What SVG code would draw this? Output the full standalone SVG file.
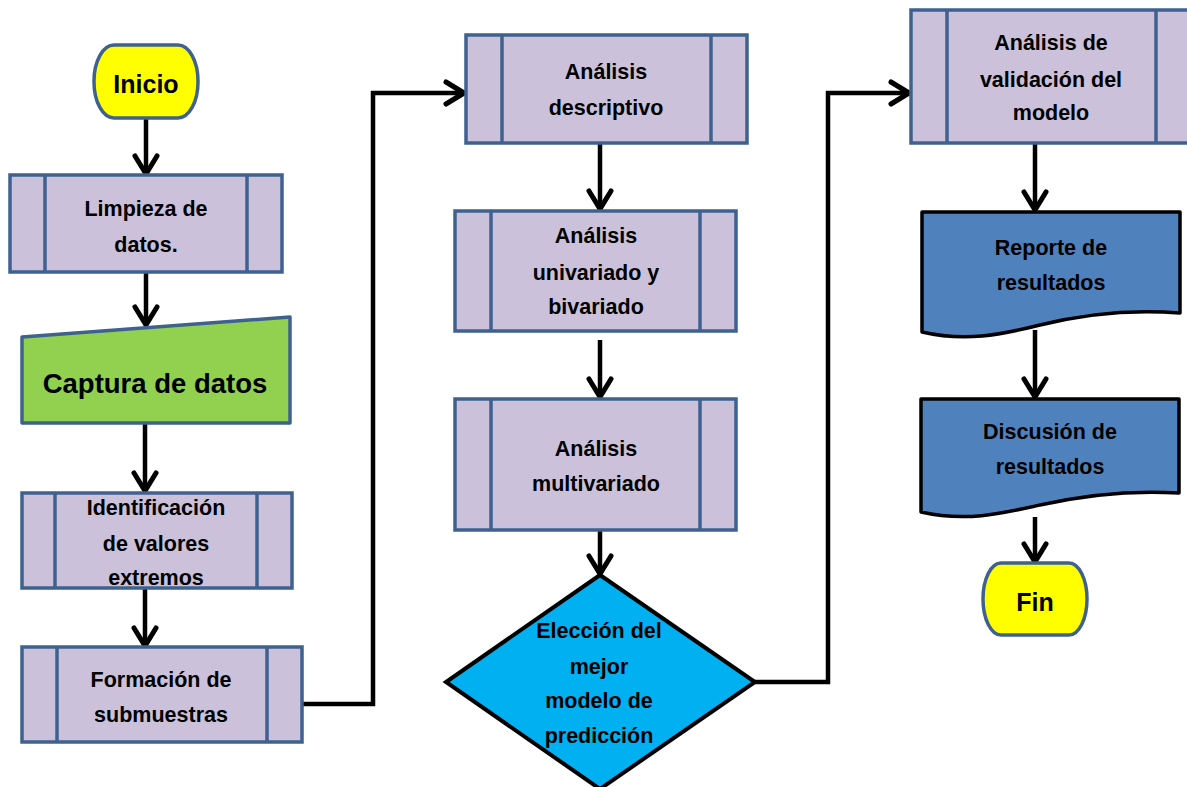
<svg xmlns="http://www.w3.org/2000/svg" width="1187" height="787" viewBox="0 0 1187 787">
<style>
.proc{fill:#CCC1DA;stroke:#3F6190;stroke-width:3.5}
.div{stroke:#3F6190;stroke-width:3.5}
.term{fill:#FFFF00;stroke:#3F6190;stroke-width:3.5}
.doc{fill:#4F81BD;stroke:#000;stroke-width:3.5;stroke-linejoin:round}
.t{font-family:"Liberation Sans",Arial,sans-serif;font-weight:bold;font-size:21.5px;fill:#000;text-anchor:middle}
.c{fill:none;stroke:#000;stroke-width:4.5;stroke-linejoin:miter}
</style>
<defs>
<marker id="ah" markerUnits="userSpaceOnUse" markerWidth="26" markerHeight="30" refX="20" refY="13" orient="auto" overflow="visible">
<path d="M2,2 L20,13 L2,24" fill="none" stroke="#000" stroke-width="5" stroke-linecap="round" stroke-linejoin="round"/>
</marker>
</defs>
<rect width="1187" height="787" fill="#FFFFFF"/>

<g id="connectors">
<path class="c" d="M146,118 V174" marker-end="url(#ah)"/>
<path class="c" d="M146,272 V325" marker-end="url(#ah)"/>
<path class="c" d="M145,423 V491" marker-end="url(#ah)"/>
<path class="c" d="M145,588 V646" marker-end="url(#ah)"/>
<path class="c" d="M302,704 H373 V93 H464" marker-end="url(#ah)"/>
<path class="c" d="M600,143 V209" marker-end="url(#ah)"/>
<path class="c" d="M600,340 V397" marker-end="url(#ah)"/>
<path class="c" d="M600,530 V574" marker-end="url(#ah)"/>
<path class="c" d="M755,682 H828 V93 H909" marker-end="url(#ah)"/>
<path class="c" d="M1035,143 V210" marker-end="url(#ah)"/>
<path class="c" d="M1035,330 V397" marker-end="url(#ah)"/>
<path class="c" d="M1035,517 V562" marker-end="url(#ah)"/>
</g>

<g id="inicio">
<rect class="term" x="94" y="45" width="104" height="73" rx="20" ry="36"/>
<text class="t" x="146" y="93" style="font-size:25px">Inicio</text>
</g>

<g id="limpieza">
<rect class="proc" x="10" y="175" width="272" height="97"/>
<line class="div" x1="45" y1="175" x2="45" y2="272"/>
<line class="div" x1="247" y1="175" x2="247" y2="272"/>
<text class="t" x="146" y="216">Limpieza de</text>
<text class="t" x="146" y="252">datos.</text>
</g>

<g id="captura">
<path d="M22,337 L290,317 V423 H22 Z" fill="#92D050" stroke="#3F6190" stroke-width="3.5" stroke-linejoin="round"/>
<text class="t" x="155" y="393" style="font-size:27.5px">Captura de datos</text>
</g>

<g id="identificacion">
<rect class="proc" x="22" y="493" width="270" height="95"/>
<line class="div" x1="55" y1="493" x2="55" y2="588"/>
<line class="div" x1="257" y1="493" x2="257" y2="588"/>
<text class="t" x="156" y="515">Identificación</text>
<text class="t" x="156" y="551">de valores</text>
<text class="t" x="156" y="585">extremos</text>
</g>

<g id="formacion">
<rect class="proc" x="22" y="647" width="280" height="95"/>
<line class="div" x1="57" y1="647" x2="57" y2="742"/>
<line class="div" x1="267" y1="647" x2="267" y2="742"/>
<text class="t" x="161" y="687">Formación de</text>
<text class="t" x="161" y="722">submuestras</text>
</g>

<g id="descriptivo">
<rect class="proc" x="466" y="35" width="281" height="108"/>
<line class="div" x1="502" y1="35" x2="502" y2="143"/>
<line class="div" x1="711" y1="35" x2="711" y2="143"/>
<text class="t" x="606" y="79">Análisis</text>
<text class="t" x="606" y="115">descriptivo</text>
</g>

<g id="univariado">
<rect class="proc" x="455" y="211" width="281" height="120"/>
<line class="div" x1="491" y1="211" x2="491" y2="331"/>
<line class="div" x1="700" y1="211" x2="700" y2="331"/>
<text class="t" x="596" y="243">Análisis</text>
<text class="t" x="596" y="280">univariado y</text>
<text class="t" x="596" y="314">bivariado</text>
</g>

<g id="multivariado">
<rect class="proc" x="455" y="399" width="281" height="131"/>
<line class="div" x1="491" y1="399" x2="491" y2="530"/>
<line class="div" x1="700" y1="399" x2="700" y2="530"/>
<text class="t" x="596" y="456">Análisis</text>
<text class="t" x="596" y="491">multivariado</text>
</g>

<g id="eleccion">
<path d="M600,575 L755,682 L600,789 L446,682 Z" fill="#00B0F0" stroke="#000" stroke-width="4" stroke-linejoin="miter"/>
<text class="t" x="599" y="638">Elección del</text>
<text class="t" x="599" y="674">mejor</text>
<text class="t" x="599" y="708">modelo de</text>
<text class="t" x="599" y="743">predicción</text>
</g>

<g id="validacion">
<rect class="proc" x="911" y="10" width="281" height="133"/>
<line class="div" x1="947" y1="10" x2="947" y2="143"/>
<line class="div" x1="1156" y1="10" x2="1156" y2="143"/>
<text class="t" x="1051" y="50">Análisis de</text>
<text class="t" x="1051" y="87">validación del</text>
<text class="t" x="1051" y="120">modelo</text>
</g>

<g id="reporte">
<path class="doc" d="M922,212 H1180 V313 C1130,309 1080,315 1040,325 C1000,335 965,342 922,332 Z"/>
<text class="t" x="1051" y="255">Reporte de</text>
<text class="t" x="1051" y="290">resultados</text>
</g>

<g id="discusion">
<path class="doc" d="M921,399 H1179 V493 C1130,490 1080,496 1040,505 C1000,514 965,522 921,512 Z"/>
<text class="t" x="1050" y="439">Discusión de</text>
<text class="t" x="1050" y="474">resultados</text>
</g>

<g id="fin">
<rect class="term" x="983" y="563" width="104" height="72" rx="18" ry="36"/>
<text class="t" x="1035" y="611" style="font-size:25px">Fin</text>
</g>
</svg>
